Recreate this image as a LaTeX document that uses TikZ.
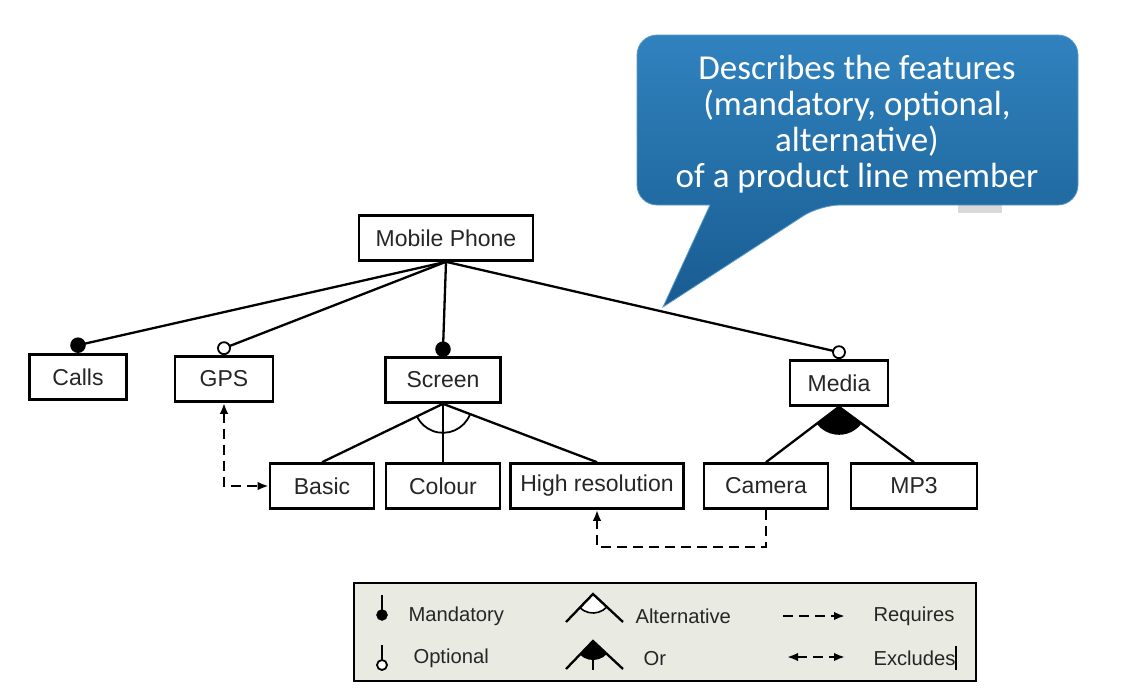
\documentclass[tikz,border=0pt]{standalone}
\usepackage{fontspec}
\setmainfont{Liberation Sans}
\newfontfamily\notefont{Carlito}
\usetikzlibrary{arrows.meta}
\definecolor{notetop}{RGB}{48,130,190}
\definecolor{notebot}{RGB}{24,92,145}
\definecolor{legendbg}{RGB}{233,234,226}
\tikzset{ftip/.tip={Latex[length=11pt,width=8.5pt]}}
\begin{document}
\begin{tikzpicture}[x=1pt, y=-1pt,
  feat/.style = {draw, line width=2.6pt, minimum height=45pt, inner sep=0pt, text=black!85,
    font=\fontsize{23}{27}\selectfont},
  link/.style = {line width=2.3pt},
  dep/.style = {line width=2.3pt, dash pattern=on 10pt off 6pt},
  legtext/.style = {anchor=west, text=black!85, font=\fontsize{20.2}{24}\selectfont}]
\useasboundingbox (0,0) rectangle (1141,699);
%features
\node[feat, minimum width=174pt] (phone) at (446,238) {Mobile Phone};
\node[feat, minimum width=97pt] (calls) at (78,377) {Calls};
\node[feat, minimum width=98pt] (gps) at (224,379) {GPS};
\node[feat, minimum width=115pt] (screen) at (443,380) {Screen};
\node[feat, minimum width=98pt] (media) at (839,383) {Media};
\node[feat, minimum width=104pt] (basic) at (322,486) {Basic};
\node[feat, minimum width=114pt] (colour) at (443,486) {Colour};
\node[feat, minimum width=173pt] (hires) at (597,486) {High resolution};
\node[feat, minimum width=124pt] (camera) at (766,486) {Camera};
\node[feat, minimum width=126pt] (mp3) at (914,486) {MP3};
%links to the root
\draw [link] (phone.south) -- ([yshift=8pt]calls.north);
\draw [link] (phone.south) -- ([yshift=7pt]gps.north);
\draw [link] (phone.south) -- ([yshift=7pt]screen.north);
\draw [link] (phone.south) -- ([yshift=7pt]media.north);
%mandatory and optional ends
\filldraw [line width=1.5pt] ([yshift=8pt]calls.north) circle (7pt);
\filldraw [line width=1.8pt, fill=white] ([yshift=7pt]gps.north) circle (6pt);
\filldraw [line width=1.5pt] ([yshift=7pt]screen.north) circle (7pt);
\filldraw [line width=1.8pt, fill=white] ([yshift=7pt]media.north) circle (6pt);
%alternative group of screen
\draw [link] (screen.south) -- (basic.north);
\draw [link] (screen.south) -- (colour.north);
\draw [link] (screen.south) -- (hires.north);
\draw [line width=1.8pt] (screen.south) ++(21.3:29) arc [start angle=21.3, end angle=153.6, radius=29];
%or group of media
\draw [link] (media.south) -- (camera.north);
\draw [link] (media.south) -- (mp3.north);
\fill (media.south) -- ++(37.2:28) arc [start angle=37.2, end angle=142, radius=28] -- cycle;
%cross-tree constraints
\draw [dep, ftip-ftip] (gps.south) |- (basic.west);
\draw [dep, -ftip] (camera.south) -- ++(0,37) -| (hires.south);
%callout
\def\NOTESHADOW{gray!30}
\fill [\NOTESHADOW] (958,203) rectangle (1002,213);
\shade [top color=notetop, bottom color=notebot, draw=notetop!80!white, line width=0.8pt, rounded corners=20pt]
  (637,35) -- (1078,35) -- (1078,205) -- (820,205) [sharp corners] -- (663,307) -- (710,205)
  [rounded corners=20pt] -- (637,205) -- cycle;
\node [text=white, align=center, font=\notefont\fontsize{35}{36}\selectfont] (note) at (857,124)
  {Describes the features\\(mandatory, optional,\\alternative)\\of a product line member};
%legend
\draw [line width=2.4pt, fill=legendbg] (354,583) rectangle (976,681);
\draw [line width=2.4pt] (382,595) -- (382,613);
\filldraw (382,615) circle (5.5pt);
\draw [line width=2.4pt] (382,645) -- (382,661);
\filldraw [line width=1.8pt, fill=white] (382,665) circle (5pt);
\node [legtext] (lmand) at (405,616) {Mandatory};
\node [legtext] (lopt) at (410,658) {Optional};
\filldraw [line width=1.6pt, fill=white] (593,594) -- ++(43:19) arc [start angle=43, end angle=134, radius=19] -- cycle;
\draw [link] (566,622) -- (593,594) -- (623,622);
\node [legtext] (lalt) at (632,616) {Alternative};
\fill (593,641) -- ++(43:19) arc [start angle=43, end angle=134, radius=19] -- cycle;
\draw [link] (566,669) -- (593,641) -- (623,669);
\draw [link] (593,641) -- (593,670);
\node [legtext] (lor) at (640,659) {Or};
\draw [dep, -ftip] (783,616) -- (845,616);
\node [legtext] (lreq) at (870,616) {Requires};
\draw [dep, ftip-ftip] (787,657) -- (845,657);
\node [legtext] (lexc) at (870,658) {Excludes};
\draw [line width=1.2pt] (956,646) -- (956,670);
\end{tikzpicture}
\end{document}
